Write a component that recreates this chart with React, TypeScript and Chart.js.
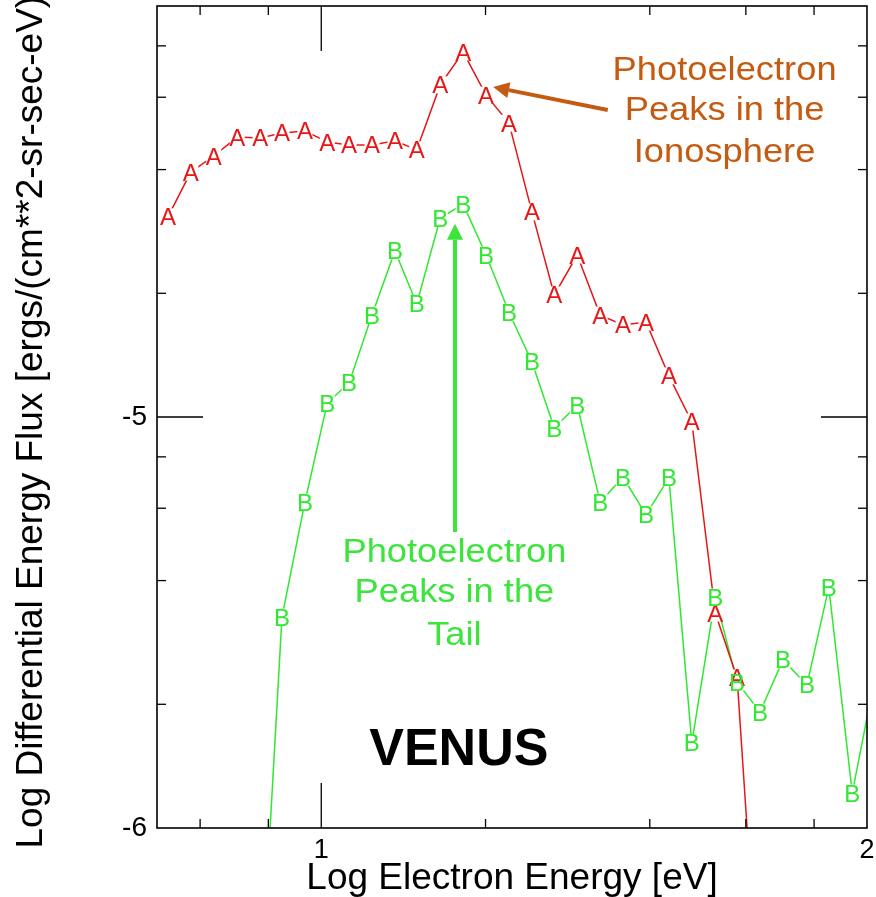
import { useEffect, useRef } from "react";
import { Chart, registerables } from "chart.js";

Chart.register(...registerables);

// ---- data (log10 energy in eV, log10 flux) ----
const energyLog = [
  0.719, 0.761, 0.803, 0.846, 0.888, 0.928, 0.97, 1.011, 1.051, 1.093, 1.135,
  1.175, 1.218, 1.26, 1.302, 1.344, 1.386, 1.427, 1.469, 1.511, 1.553, 1.595,
  1.637, 1.679, 1.722, 1.762, 1.804, 1.846, 1.89, 1.93, 1.973, 2.015,
];

const fluxA: (number | null)[] = [
  -4.513, -4.404, -4.365, -4.319, -4.321, -4.309, -4.304, -4.331, -4.338,
  -4.338, -4.328, -4.35, -4.192, -4.112, -4.217, -4.285, -4.501, -4.703,
  -4.606, -4.752, -4.776, -4.769, -4.9, -5.012, -5.477, -5.635, -6.474,
  null, null, null, null, null,
];

const fluxB: (number | null)[] = [
  null, null, null, null, -6.43, -5.487, -5.207, -4.966, -4.917, -4.752,
  -4.596, -4.725, -4.516, -4.482, -4.606, -4.745, -4.866, -5.027, -4.971,
  -5.207, -5.146, -5.238, -5.148, -5.793, -5.438, -5.645, -5.718, -5.591,
  -5.652, -5.414, -5.915, -5.63,
];

const seriesLetters = ["A", "B"];
const seriesColors = ["rgb(232,22,22)", "rgb(48,232,48)"];

// ---- axes ----
const X_MIN = 0.699;
const X_MAX = 2;
const Y_MIN = -6;
const Y_MAX = -4;
const xTickLabels = [1, 2];
const yTickLabels = [-6, -5];
const xMajorMarks = [1];
const yMajorMarks = [-5];
const xMinorMarks = [0.778, 0.903, 1.301, 1.602, 1.778, 1.903];
const yMinorMarks = [-5.699, -5.398, -5.222, -5.097, -4.699, -4.398, -4.222, -4.097];

const xTitle = "Log Electron Energy [eV]";
const yTitle = "Log Differential Energy Flux [ergs/(cm**2-sr-sec-eV)]";

// ---- annotations (data coordinates) ----
const ionoLines = ["Photoelectron", "Peaks in the", "Ionosphere"];
const ionoPos = { x: 1.739, y: [-4.18, -4.277, -4.38] };
const ionoArrow = { x1: 1.525, y1: -4.253, x2: 1.315, y2: -4.197 };
const tailLines = ["Photoelectron", "Peaks in the", "Tail"];
const tailPos = { x: 1.244, y: [-5.354, -5.449, -5.555] };
const tailArrow = { x1: 1.245, y1: -5.28, x2: 1.245, y2: -4.53 };
const venusLabel = "VENUS";
const venusPos = { x: 1.252, y: -5.847 };

const FONT = '"Liberation Sans", Arial, Helvetica, sans-serif';
const ORANGE = "rgb(197,90,17)";
const GREEN_TXT = "rgb(60,228,60)";

function drawArrow(ctx: CanvasRenderingContext2D, x1: number, y1: number, x2: number, y2: number, color: string) {
  const ang = Math.atan2(y2 - y1, x2 - x1);
  const headLen = 16;
  const headHalf = 8;
  const bx = x2 - headLen * Math.cos(ang);
  const by = y2 - headLen * Math.sin(ang);
  ctx.strokeStyle = color;
  ctx.fillStyle = color;
  ctx.lineWidth = 4;
  ctx.beginPath();
  ctx.moveTo(x1, y1);
  ctx.lineTo(bx, by);
  ctx.stroke();
  ctx.beginPath();
  ctx.moveTo(x2, y2);
  ctx.lineTo(bx + headHalf * Math.sin(ang), by - headHalf * Math.cos(ang));
  ctx.lineTo(bx - headHalf * Math.sin(ang), by + headHalf * Math.cos(ang));
  ctx.closePath();
  ctx.fill();
}

const decorPlugin = {
  id: "decor",
  afterDatasetsDraw(chart: any) {
    const { ctx, chartArea } = chart;
    const { left, right, top, bottom } = chartArea;
    const xs = chart.scales.x;
    const ys = chart.scales.y;
    ctx.save();

    // letter markers: white boxes first, then letters
    const letterSize = 24;
    const items: { px: number; py: number; letter: string; color: string }[] = [];
    chart.data.datasets.forEach((ds: any, di: number) => {
      const meta = chart.getDatasetMeta(di);
      meta.data.forEach((el: any) => {
        if (el.x < left - 1 || el.x > right + 1 || el.y < top - 1 || el.y > bottom + 1) return;
        items.push({ px: el.x, py: el.y, letter: seriesLetters[di], color: seriesColors[di] });
      });
    });
    ctx.fillStyle = "#fff";
    items.forEach((it) => ctx.fillRect(it.px - 7.5, it.py - 8.5, 15, 17));
    ctx.font = `${letterSize}px ${FONT}`;
    ctx.textAlign = "center";
    ctx.textBaseline = "alphabetic";
    items.forEach((it) => {
      ctx.fillStyle = it.color;
      ctx.fillText(it.letter, it.px, it.py + 8.5);
    });

    // frame
    ctx.strokeStyle = "#000";
    ctx.lineWidth = 1.6;
    ctx.strokeRect(left, top, right - left, bottom - top);
    ctx.lineWidth = 1.3;
    const seg = (a: number, b: number, c: number, d: number) => {
      ctx.beginPath();
      ctx.moveTo(a, b);
      ctx.lineTo(c, d);
      ctx.stroke();
    };
    xMinorMarks.forEach((v) => {
      const p = xs.getPixelForValue(v);
      seg(p, bottom, p, bottom - 9);
      seg(p, top, p, top + 9);
    });
    xMajorMarks.forEach((v) => {
      const p = xs.getPixelForValue(v);
      seg(p, bottom, p, bottom - 45);
      seg(p, top, p, top + 45);
    });
    yMinorMarks.forEach((v) => {
      const p = ys.getPixelForValue(v);
      seg(left, p, left + 9, p);
      seg(right, p, right - 9, p);
    });
    yMajorMarks.forEach((v) => {
      const p = ys.getPixelForValue(v);
      seg(left, p, left + 46, p);
      seg(right, p, right - 46, p);
    });

    // annotations
    ctx.textAlign = "center";
    ctx.textBaseline = "alphabetic";
    ctx.font = `33px ${FONT}`;
    ctx.fillStyle = ORANGE;
    ionoLines.forEach((t, i) => {
      ctx.save();
      ctx.translate(xs.getPixelForValue(ionoPos.x), ys.getPixelForValue(ionoPos.y[i]));
      ctx.scale(1.1, 1);
      ctx.fillText(t, 0, 0);
      ctx.restore();
    });
    drawArrow(
      ctx,
      xs.getPixelForValue(ionoArrow.x1), ys.getPixelForValue(ionoArrow.y1),
      xs.getPixelForValue(ionoArrow.x2), ys.getPixelForValue(ionoArrow.y2),
      ORANGE
    );
    ctx.font = `33px ${FONT}`;
    ctx.fillStyle = GREEN_TXT;
    tailLines.forEach((t, i) => {
      ctx.save();
      ctx.translate(xs.getPixelForValue(tailPos.x), ys.getPixelForValue(tailPos.y[i]));
      ctx.scale(1.1, 1);
      ctx.fillText(t, 0, 0);
      ctx.restore();
    });
    drawArrow(
      ctx,
      xs.getPixelForValue(tailArrow.x1), ys.getPixelForValue(tailArrow.y1),
      xs.getPixelForValue(tailArrow.x2), ys.getPixelForValue(tailArrow.y2),
      GREEN_TXT
    );
    ctx.font = `bold 52px ${FONT}`;
    ctx.fillStyle = "#000";
    ctx.fillText(venusLabel, xs.getPixelForValue(venusPos.x), ys.getPixelForValue(venusPos.y));

    ctx.restore();
  },
  afterDraw(chart: any) {
    const { ctx, chartArea } = chart;
    ctx.save();
    ctx.translate(42, (chartArea.top + chartArea.bottom) / 2);
    ctx.rotate(-Math.PI / 2);
    ctx.font = `37px ${FONT}`;
    ctx.textAlign = "center";
    ctx.textBaseline = "alphabetic";
    ctx.fillStyle = "#000";
    ctx.fillText(yTitle, 0, 0);
    ctx.restore();
  },
};

export default function App() {
  const canvasRef = useRef<HTMLCanvasElement | null>(null);

  useEffect(() => {
    if (!canvasRef.current) return;
    const toPoints = (arr: (number | null)[]) =>
      energyLog
        .map((e, i) => ({ x: e, y: arr[i] }))
        .filter((p) => p.y !== null) as { x: number; y: number }[];

    const chart = new Chart(canvasRef.current, {
      type: "line",
      data: {
        datasets: [
          {
            label: "A",
            data: toPoints(fluxA),
            borderColor: seriesColors[0],
            borderWidth: 1.5,
            pointRadius: 0,
            tension: 0,
            fill: false,
          },
          {
            label: "B",
            data: toPoints(fluxB),
            borderColor: seriesColors[1],
            borderWidth: 1.5,
            pointRadius: 0,
            tension: 0,
            fill: false,
          },
        ],
      },
      options: {
        animation: false,
        responsive: true,
        maintainAspectRatio: false,
        layout: { padding: { left: 0, right: 9, top: 6, bottom: 0 } },
        plugins: {
          legend: { display: false },
          tooltip: { enabled: false },
          title: { display: false },
        },
        scales: {
          x: {
            type: "linear",
            min: X_MIN,
            max: X_MAX,
            grid: { display: false, drawTicks: false },
            border: { display: false },
            afterBuildTicks: (scale: any) => {
              scale.ticks = xTickLabels.map((v) => ({ value: v }));
            },
            afterFit: (scale: any) => {
              scale.height = 69;
              scale.paddingLeft = 0;
              scale.paddingRight = 0;
            },
            ticks: {
              autoSkip: false,
              maxRotation: 0,
              padding: 6,
              color: "#000",
              font: { family: FONT, size: 27 },
              callback: (v: any) => String(v),
            },
            title: {
              display: true,
              text: xTitle,
              color: "#000",
              font: { family: FONT, size: 37 },
              padding: { top: 0, bottom: -4 },
            },
          },
          y: {
            type: "linear",
            min: Y_MIN,
            max: Y_MAX,
            grid: { display: false, drawTicks: false },
            border: { display: false },
            afterBuildTicks: (scale: any) => {
              scale.ticks = yTickLabels.map((v) => ({ value: v }));
            },
            afterFit: (scale: any) => {
              scale.width = 157;
              scale.paddingTop = 0;
              scale.paddingBottom = 0;
            },
            ticks: {
              autoSkip: false,
              padding: 10,
              color: "#000",
              font: { family: FONT, size: 28 },
              callback: (v: any) => String(v),
            },
          },
        },
      },
      plugins: [decorPlugin],
    });
    return () => chart.destroy();
  }, []);

  return (
    <div style={{ position: "fixed", left: 0, top: 0, width: 876, height: 897, background: "#fff" }}>
      <canvas ref={canvasRef} />
    </div>
  );
}
